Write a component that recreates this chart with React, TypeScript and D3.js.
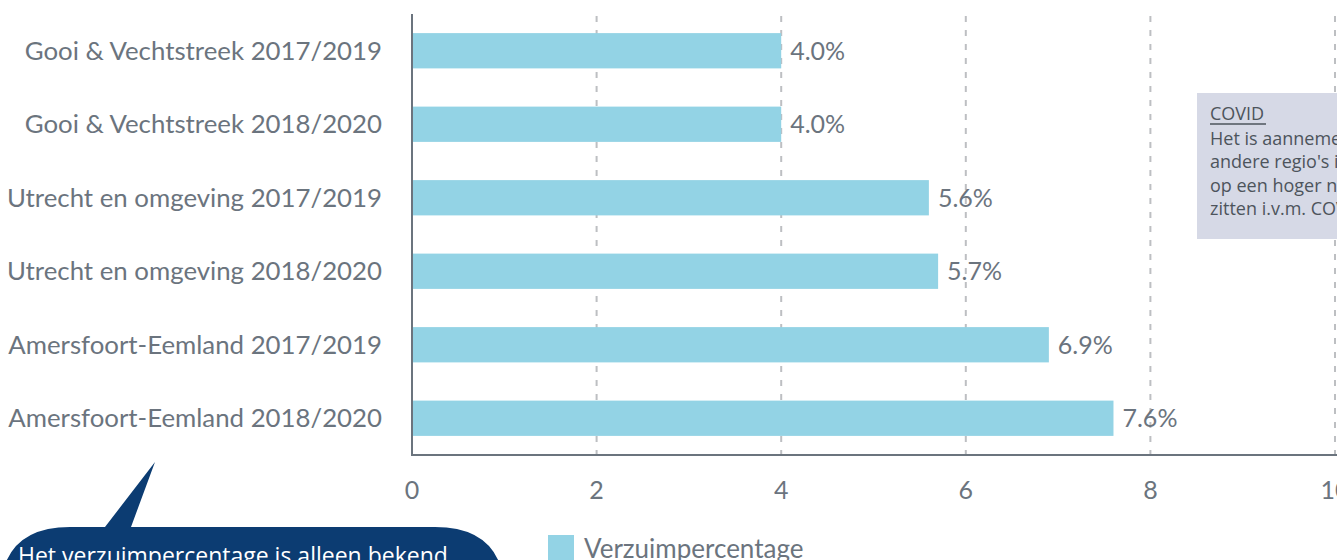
import * as d3 from 'd3'

const categories = [
  'Gooi & Vechtstreek 2017/2019',
  'Gooi & Vechtstreek 2018/2020',
  'Utrecht en omgeving 2017/2019',
  'Utrecht en omgeving 2018/2020',
  'Amersfoort-Eemland 2017/2019',
  'Amersfoort-Eemland 2018/2020',
]
const values = [4.0, 4.0, 5.6, 5.7, 6.9, 7.6]
const xTicks = [0, 2, 4, 6, 8, 10]
const covidLines = ['Het is aannemelijk dat', "andere regio's in 2020", 'op een hoger niveau', 'zitten i.v.m. COVID']

const W = 1337
const H = 560
const X0 = 412
const X1 = 1335
const Y_TOP = 14
const Y_AXIS = 455

const TEXT = '#6b747e'
const BAR = '#93d3e5'
const LATO = 'Lato, "Open Sans", sans-serif'

export default function App() {
  const x = d3.scaleLinear().domain([0, 10]).range([X0, X1])
  const y = d3
    .scaleBand<string>()
    .domain(categories)
    .range([Y_TOP, Y_AXIS])
    .paddingInner(0.52)
    .paddingOuter(0.26)

  // callout bubble with tail
  const bx0 = 0, bx1 = 505, by0 = 527, r = 70
  const bubble = [
    `M ${bx0 + r} ${by0}`,
    `L 105 ${by0}`,
    `L 155 462`,
    `L 131 ${by0}`,
    `L ${bx1 - r} ${by0}`,
    `Q ${bx1} ${by0} ${bx1} ${by0 + r}`,
    `L ${bx1} ${H + 20}`,
    `L ${bx0} ${H + 20}`,
    `L ${bx0} ${by0 + r}`,
    `Q ${bx0} ${by0} ${bx0 + r} ${by0}`,
    'Z',
  ].join(' ')

  return (
    <svg
      width={W}
      height={H}
      style={{ position: 'absolute', left: 0, top: 0, background: '#fff' }}
    >
      {/* dashed grid */}
      {xTicks.slice(1).map((t) => (
        <line
          key={t}
          x1={x(t)}
          x2={x(t)}
          y1={16}
          y2={Y_AXIS}
          stroke="#bdbfc2"
          strokeWidth={2}
          strokeDasharray="6 8"
        />
      ))}

      {/* bars */}
      {categories.map((c, i) => (
        <g key={c}>
          <rect
            x={x(0)}
            y={y(c)}
            width={x(values[i]) - x(0)}
            height={y.bandwidth()}
            fill={BAR}
          />
          <text
            x={x(values[i]) + 9}
            y={(y(c) ?? 0) + y.bandwidth() / 2}
            dy="0.35em"
            fontSize={25}
            fontFamily={LATO}
            fill={TEXT}
          >
            {values[i].toFixed(1)}%
          </text>
          <text
            x={382}
            y={(y(c) ?? 0) + y.bandwidth() / 2}
            dy="0.35em"
            textAnchor="end"
            fontSize={25.8}
            fontFamily={LATO}
            fill={TEXT}
          >
            {c}
          </text>
        </g>
      ))}

      {/* axes */}
      <line x1={X0} x2={X0} y1={14} y2={Y_AXIS} stroke="#6b747e" strokeWidth={2} />
      <line x1={X0 - 1} x2={W} y1={Y_AXIS} y2={Y_AXIS} stroke="#6b747e" strokeWidth={2} />
      {xTicks.map((t) => (
        <text
          key={t}
          x={x(t)}
          y={499}
          textAnchor="middle"
          fontSize={25}
          fontFamily={LATO}
          fill={TEXT}
        >
          {t}
        </text>
      ))}

      {/* COVID annotation */}
      <rect x={1197} y={93} width={200} height={146} fill="#d6d9e6" />
      <text x={1210} y={120} fontSize={18} fontFamily='"Open Sans", sans-serif' fill="#4d545c">
        COVID
      </text>
      <line x1={1210} x2={1266} y1={124} y2={124} stroke="#4d545c" strokeWidth={1.3} />
      {covidLines.map((l, i) => (
        <text
          key={l}
          x={1210}
          y={145 + i * 23.3}
          fontSize={18}
          fontFamily='"Open Sans", sans-serif'
          fill="#4d545c"
        >
          {l}
        </text>
      ))}

      {/* legend */}
      <rect x={548} y={535} width={26} height={26} fill={BAR} />
      <text x={584} y={558} fontSize={26} fontFamily={LATO} fill={TEXT}>
        Verzuimpercentage
      </text>

      {/* callout */}
      <path d={bubble} fill="#0c3c72" />
      <text x={18} y={564} fontSize={23} fontFamily='"Open Sans", sans-serif' fill="#fff">
        Het verzuimpercentage is alleen bekend
      </text>
    </svg>
  )
}
